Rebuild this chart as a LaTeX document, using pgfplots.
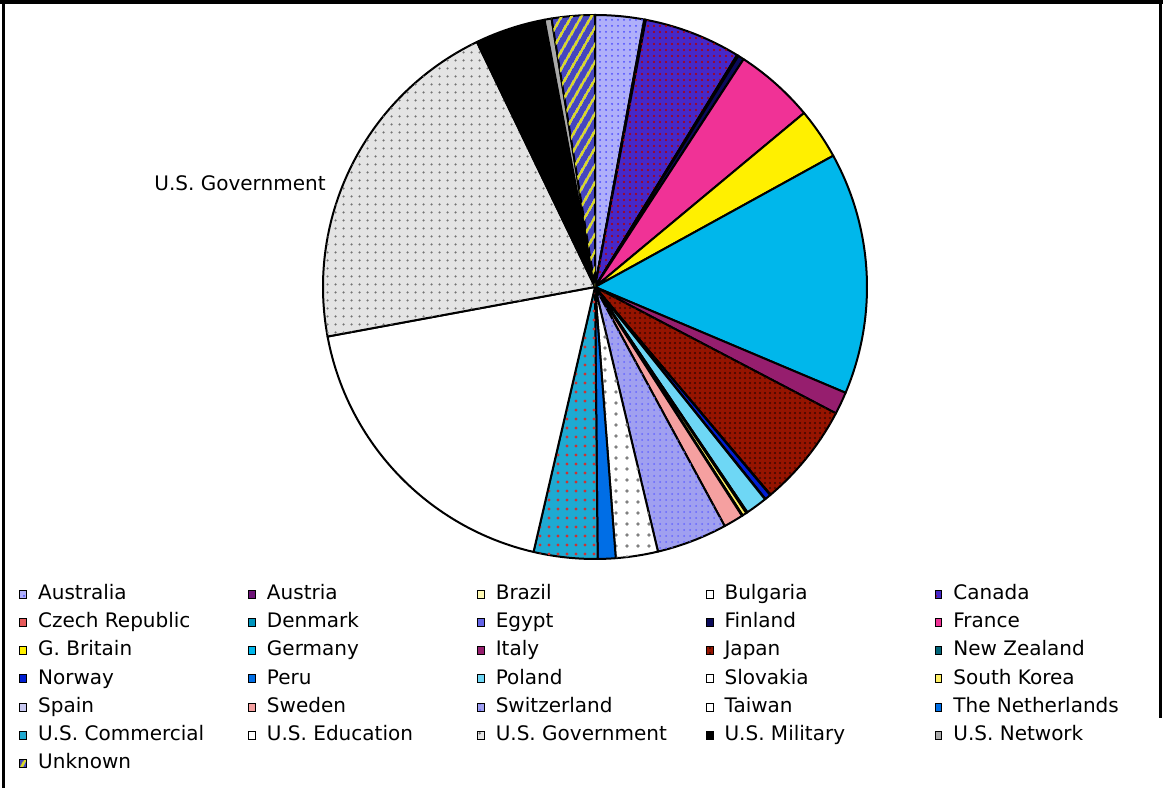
\documentclass[border=0pt]{standalone}
\usepackage{pgfplots}
\pgfplotsset{compat=1.18}
\usepackage{pgfplotstable}
\usepackage{fontspec}
\setmainfont{DejaVu Sans}
\usetikzlibrary{patterns.meta}

\pgfplotstableread[col sep=comma]{
name,share
Australia,2.90
Austria,0.03
Brazil,0.03
Bulgaria,0.03
Canada,5.75
Czech Republic,0.03
Denmark,0.03
Egypt,0.03
Finland,0.36
France,4.75
G. Britain,3.03
Germany,14.36
Italy,1.33
Japan,6.14
New Zealand,0.03
Norway,0.36
Peru,0.03
Poland,1.28
Slovakia,0.08
South Korea,0.25
Spain,0.05
Sweden,1.17
Switzerland,4.19
Taiwan,2.50
The Netherlands,1.06
U.S. Commercial,3.78
U.S. Education,18.44
U.S. Government,20.75
U.S. Military,4.17
U.S. Network,0.42
Unknown,2.55
}\pietable

\definecolor{cAus}{RGB}{175,175,250}
\definecolor{cAut}{RGB}{110,20,120}
\definecolor{cBra}{RGB}{255,250,180}
\definecolor{cCan}{RGB}{70,40,200}
\definecolor{cCze}{RGB}{230,90,90}
\definecolor{cDen}{RGB}{0,150,190}
\definecolor{cEgy}{RGB}{100,100,230}
\definecolor{cFin}{RGB}{10,10,90}
\definecolor{cFra}{RGB}{240,50,150}
\definecolor{cGBr}{RGB}{255,240,0}
\definecolor{cGer}{RGB}{0,183,235}
\definecolor{cIta}{RGB}{150,30,110}
\definecolor{cJap}{RGB}{150,20,0}
\definecolor{cNZ}{RGB}{0,100,120}
\definecolor{cNor}{RGB}{0,30,210}
\definecolor{cPer}{RGB}{0,110,230}
\definecolor{cPol}{RGB}{110,215,245}
\definecolor{cSKo}{RGB}{255,240,100}
\definecolor{cSpa}{RGB}{200,200,240}
\definecolor{cSwe}{RGB}{245,160,160}
\definecolor{cSwi}{RGB}{160,160,240}
\definecolor{cNet}{RGB}{0,110,230}
\definecolor{cCom}{RGB}{30,170,210}
\definecolor{cGov}{RGB}{228,228,228}
\definecolor{cNetw}{RGB}{170,170,170}
\definecolor{cUnk}{RGB}{70,70,190}

\tikzset{
  pie0/.style={fill=cAus, postaction={pattern={Dots[distance=3pt,radius=0.5pt]}, pattern color=blue!70}},
  pie1/.style={fill=cAut},
  pie2/.style={fill=cBra},
  pie3/.style={fill=white},
  pie4/.style={fill=cCan, postaction={pattern={Dots[distance=3pt,radius=0.6pt]}, pattern color=red!70!black}},
  pie5/.style={fill=cCze},
  pie6/.style={fill=cDen},
  pie7/.style={fill=cEgy},
  pie8/.style={fill=cFin},
  pie9/.style={fill=cFra},
  pie10/.style={fill=cGBr},
  pie11/.style={fill=cGer},
  pie12/.style={fill=cIta},
  pie13/.style={fill=cJap, postaction={pattern={Dots[distance=2.5pt,radius=0.6pt]}, pattern color=black!60!cJap}},
  pie14/.style={fill=cNZ},
  pie15/.style={fill=cNor},
  pie16/.style={fill=cPer},
  pie17/.style={fill=cPol},
  pie18/.style={fill=white},
  pie19/.style={fill=cSKo},
  pie20/.style={fill=cSpa},
  pie21/.style={fill=cSwe},
  pie22/.style={fill=cSwi, postaction={pattern={Dots[distance=3pt,radius=0.5pt]}, pattern color=blue!60}},
  pie23/.style={fill=white, postaction={pattern={Dots[distance=5.5pt,radius=0.9pt]}, pattern color=gray}},
  pie24/.style={fill=cNet},
  pie25/.style={fill=cCom, postaction={pattern={Dots[distance=4.5pt,radius=0.8pt]}, pattern color=red!60!gray}},
  pie26/.style={fill=white},
  pie27/.style={fill=cGov, postaction={pattern={Dots[distance=4pt,radius=0.7pt]}, pattern color=black!55}},
  pie28/.style={fill=black},
  pie29/.style={fill=cNetw},
  pie30/.style={fill=cUnk, postaction={pattern={Lines[angle=60,distance=4pt,line width=1.2pt]}, pattern color=yellow!70!gray}},
}

\newcommand{\lent}[1]{\addlegendentry{\makebox[99.5pt][l]{#1}}}

\begin{document}
\begin{tikzpicture}
\begin{axis}[
  at={(0,0)}, anchor=south west,
  x=0.5pt, y=0.5pt, scale only axis,
  xmin=0, xmax=1163, ymin=0, ymax=788,
  hide axis, clip=false,
  legend columns=5,
  legend image code/.code={\draw[#1, draw=black, line width=0.5pt] (0pt,-2pt) rectangle (3.4pt,2pt);},
  legend style={at={(axis cs:19,204)}, anchor=north west, draw=none, fill=none,
    inner sep=0pt, font=\fontsize{10}{12}\selectfont, row sep=4.1pt,
    nodes={inner xsep=5.5pt, inner ysep=0pt, text height=7.5pt, text depth=2.5pt}},
]
\addlegendimage{pie0}\lent{Australia}
\addlegendimage{pie1}\lent{Austria}
\addlegendimage{pie2}\lent{Brazil}
\addlegendimage{pie3}\lent{Bulgaria}
\addlegendimage{pie4}\lent{Canada}
\addlegendimage{pie5}\lent{Czech Republic}
\addlegendimage{pie6}\lent{Denmark}
\addlegendimage{pie7}\lent{Egypt}
\addlegendimage{pie8}\lent{Finland}
\addlegendimage{pie9}\lent{France}
\addlegendimage{pie10}\lent{G. Britain}
\addlegendimage{pie11}\lent{Germany}
\addlegendimage{pie12}\lent{Italy}
\addlegendimage{pie13}\lent{Japan}
\addlegendimage{pie14}\lent{New Zealand}
\addlegendimage{pie15}\lent{Norway}
\addlegendimage{pie16}\lent{Peru}
\addlegendimage{pie17}\lent{Poland}
\addlegendimage{pie18}\lent{Slovakia}
\addlegendimage{pie19}\lent{South Korea}
\addlegendimage{pie20}\lent{Spain}
\addlegendimage{pie21}\lent{Sweden}
\addlegendimage{pie22}\lent{Switzerland}
\addlegendimage{pie23}\lent{Taiwan}
\addlegendimage{pie24}\lent{The Netherlands}
\addlegendimage{pie25}\lent{U.S. Commercial}
\addlegendimage{pie26}\lent{U.S. Education}
\addlegendimage{pie27}\lent{U.S. Government}
\addlegendimage{pie28}\lent{U.S. Military}
\addlegendimage{pie29}\lent{U.S. Network}
\addlegendimage{pie30}\lent{Unknown}

\pgfplotsextra{
  \xdef\pietotal{0}
  \foreach \i in {0,...,30}{
    \pgfplotstablegetelem{\i}{share}\of\pietable
    \pgfmathsetmacro\tmpsum{\pietotal+\pgfplotsretval}
    \xdef\pietotal{\tmpsum}
  }
  \xdef\piecum{0}
  \foreach \i in {0,...,30}{
    \pgfplotstablegetelem{\i}{share}\of\pietable
    \pgfmathsetmacro\angA{90-360*(\piecum/\pietotal)}
    \pgfmathsetmacro\newcum{\piecum+\pgfplotsretval}
    \pgfmathsetmacro\angB{90-360*(\newcum/\pietotal)}
    \filldraw[pie\i, draw=black, line width=1pt, line join=round]
      (axis cs:595,501) -- ++(\angA:136pt) arc[start angle=\angA, end angle=\angB, radius=136pt] -- cycle;
    \xdef\piecum{\newcum}
  }
  \node[anchor=east, font=\fontsize{10}{12}\selectfont, inner sep=0pt] at (axis cs:326,605) {U.S. Government};
  \draw[line width=2pt] (axis cs:0,786) -- (axis cs:1163,786);
  \draw[line width=1.5pt] (axis cs:4,788) -- (axis cs:4,0);
  \draw[line width=1.5pt] (axis cs:1160,788) -- (axis cs:1160,70);
}
\end{axis}
\pgfresetboundingbox
\path (0,0) rectangle (581.5pt,394pt);
\end{tikzpicture}
\end{document}
